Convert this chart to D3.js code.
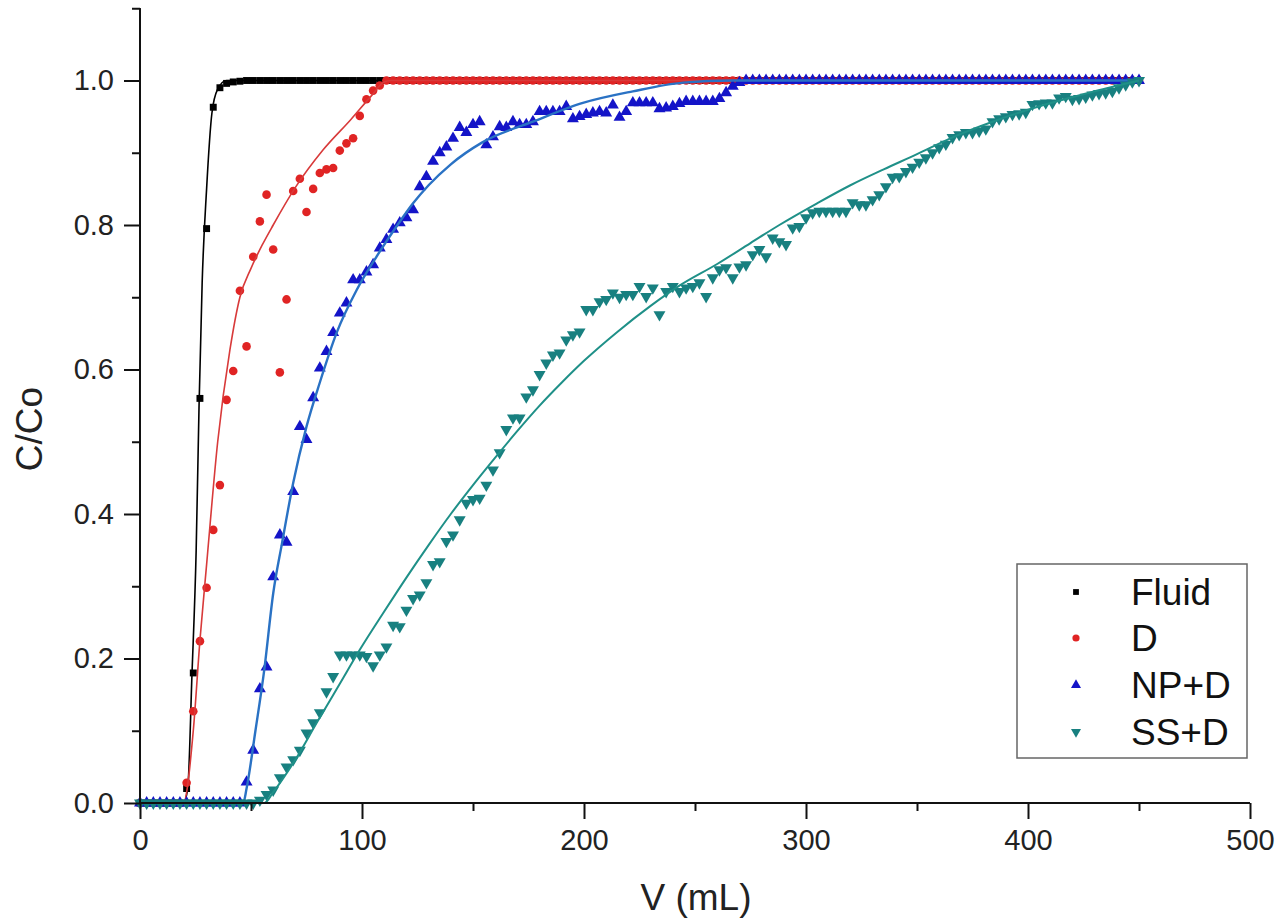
<!DOCTYPE html>
<html>
<head>
<meta charset="utf-8">
<script src="https://cdn.jsdelivr.net/npm/d3@7"></script>
<style>
  html, body { margin: 0; padding: 0; background: #fff; }
  svg { display: block; font-family: "Liberation Sans", Arial, Helvetica, sans-serif; }
</style>
</head>
<body>
<svg id="chart" width="1288" height="921"></svg>
<script>
// ---------------- DATA ----------------
const volumes = [
  0,3,6,9,12,15,18,21,24,27,
  30,33,36,39,42,45,48,51,54,57,
  60,63,66,69,72,75,78,81,84,87,
  90,93,96,99,102,105,108,111,114,117,
  120,123,126,129,132,135,138,141,144,147,
  150,153,156,159,162,165,168,171,174,177,
  180,183,186,189,192,195,198,201,204,207,
  210,213,216,219,222,225,228,231,234,237,
  240,243,246,249,252,255,258,261,264,267,
  270,273,276,279,282,285,288,291,294,297,
  300,303,306,309,312,315,318,321,324,327,
  330,333,336,339,342,345,348,351,354,357,
  360,363,366,369,372,375,378,381,384,387,
  390,393,396,399,402,405,408,411,414,417,
  420,423,426,429,432,435,438,441,444,447,
  450
];

const fluidC = [
  0,0,0,0,0,0,0,0.02,0.18,0.56,
  0.795,0.963,0.99,0.996,0.998,0.999,1,1,1,1,
  1,1,1,1,1,1,1,1,1,1,
  1,1,1,1,1,1,1,1,1,1,
  1,1,1,1,1,1,1,1,1,1,
  1,1,1,1,1,1,1,1,1,1,
  1,1,1,1,1,1,1,1,1,1,
  1,1,1,1,1,1,1,1,1,1,
  1,1,1,1,1,1,1,1,1,1,
  1,1,1,1,1,1,1,1,1,1,
  1,1,1,1,1,1,1,1,1,1,
  1,1,1,1,1,1,1,1,1,1,
  1,1,1,1,1,1,1,1,1,1,
  1,1,1,1,1,1,1,1,1,1,
  1,1,1,1,1,1,1,1,1,1,
  1
];

const dC = [
  0,0,0,0,0,0,0,0.028,0.127,0.224,
  0.298,0.378,0.44,0.558,0.598,0.709,0.632,0.756,0.805,0.842,
  0.766,0.596,0.697,0.847,0.864,0.818,0.85,0.872,0.877,0.879,
  0.903,0.913,0.92,0.951,0.974,0.986,0.993,1,1,1,
  1,1,1,1,1,1,1,1,1,1,
  1,1,1,1,1,1,1,1,1,1,
  1,1,1,1,1,1,1,1,1,1,
  1,1,1,1,1,1,1,1,1,1,
  1,1,1,1,1,1,1,1,1,1,
  1,1,1,1,1,1,1,1,1,1,
  1,1,1,1,1,1,1,1,1,1,
  1,1,1,1,1,1,1,1,1,1,
  1,1,1,1,1,1,1,1,1,1,
  1,1,1,1,1,1,1,1,1,1,
  1,1,1,1,1,1,1,1,1,1,
  1
];

const npC = [
  0,0,0,0,0,0,0,0,0,0,
  0,0,0,0,0,0,0.029,0.073,0.158,0.188,
  0.313,0.371,0.361,0.431,0.521,0.503,0.561,0.602,0.625,0.651,
  0.678,0.692,0.724,0.724,0.735,0.745,0.768,0.78,0.794,0.803,
  0.81,0.821,0.853,0.867,0.888,0.9,0.908,0.92,0.935,0.928,
  0.939,0.943,0.911,0.922,0.936,0.935,0.943,0.939,0.939,0.943,
  0.957,0.957,0.957,0.957,0.964,0.947,0.95,0.953,0.955,0.957,
  0.955,0.966,0.949,0.957,0.969,0.969,0.969,0.969,0.961,0.962,
  0.964,0.968,0.971,0.971,0.971,0.971,0.971,0.975,0.983,0.992,
  0.997,1,1,1,1,1,1,1,1,1,
  1,1,1,1,1,1,1,1,1,1,
  1,1,1,1,1,1,1,1,1,1,
  1,1,1,1,1,1,1,1,1,1,
  1,1,1,1,1,1,1,1,1,1,
  1,1,1,1,1,1,1,1,1,1,
  1
];

const ssC = [
  0,0,0,0,0,0,0,0,0,0,
  0,0,0,0,0,0,0,0,0.004,0.012,
  0.018,0.035,0.05,0.06,0.073,0.097,0.111,0.125,0.154,0.175,
  0.205,0.205,0.205,0.205,0.203,0.19,0.205,0.216,0.246,0.244,
  0.267,0.283,0.288,0.305,0.33,0.334,0.362,0.371,0.392,0.415,
  0.42,0.422,0.44,0.461,0.485,0.517,0.533,0.533,0.562,0.572,
  0.593,0.609,0.62,0.623,0.641,0.648,0.652,0.683,0.683,0.694,
  0.697,0.706,0.7,0.704,0.704,0.715,0.701,0.713,0.676,0.708,
  0.715,0.708,0.713,0.715,0.72,0.701,0.727,0.738,0.741,0.727,
  0.742,0.745,0.759,0.766,0.756,0.782,0.777,0.773,0.796,0.798,
  0.81,0.817,0.819,0.819,0.819,0.819,0.819,0.831,0.828,0.828,
  0.835,0.842,0.853,0.866,0.867,0.874,0.88,0.887,0.893,0.9,
  0.907,0.912,0.921,0.925,0.928,0.928,0.93,0.933,0.943,0.947,
  0.95,0.953,0.954,0.956,0.967,0.968,0.969,0.969,0.976,0.978,
  0.974,0.975,0.977,0.98,0.982,0.983,0.985,0.99,0.994,0.998,
  1
];

// fitted curves: [V, C/Co]
const fitFluid = [[0,0],[19.5,0],[21.5,0.02],[23.4,0.177],[25.3,0.35],[26.6,0.55],[28,0.72],[30,0.85],[32.4,0.955],[35,0.988],[39,1.0],[450,1.0]];
const fitD = [[0,0],[19.5,0],[24,0.1],[27,0.225],[30,0.33],[35,0.5],[40.5,0.627],[45,0.7],[50,0.74],[55,0.772],[60,0.8],[70,0.852],[82.5,0.904],[95,0.946],[104,0.978],[110,0.998],[113,1.0],[450,1.0]];
const fitNP = [[0,0],[46.5,0],[48,0.02],[52,0.1],[56,0.185],[60,0.29],[64,0.36],[69,0.443],[75,0.521],[81,0.582],[88.6,0.651],[97.6,0.71],[106.5,0.756],[116,0.8],[123,0.83],[130,0.855],[140,0.884],[154,0.914],[177,0.943],[199.5,0.969],[222,0.985],[244.6,0.997],[267,1.0],[450,1.0]];
const fitSS = [[0,0],[56,0],[60,0.015],[70,0.06],[80,0.113],[90,0.165],[99,0.212],[110,0.265],[120,0.312],[130,0.357],[140,0.4],[150,0.44],[160,0.478],[170,0.515],[180,0.55],[190,0.582],[200,0.612],[215,0.652],[230,0.688],[243,0.716],[260,0.746],[275,0.775],[288,0.8],[305,0.83],[320,0.855],[335,0.877],[350,0.898],[365,0.92],[385,0.944],[407,0.966],[430,0.985],[450,1.0]];

const seriesNames = ["Fluid", "D", "NP+D", "SS+D"];
const xTicks = [0, 100, 200, 300, 400, 500];
const yTicks = [0.0, 0.2, 0.4, 0.6, 0.8, 1.0];
const xLabel = "V (mL)";
const yLabel = "C/Co";

// ---------------- DRAW ----------------
const svg = d3.select("#chart");
const x = d3.scaleLinear().domain([0, 500]).range([140, 1250]);
const y = d3.scaleLinear().domain([0, 1.1]).range([803, 8.25]);

const styles = [
  { c: fluidC, fit: fitFluid, mk: "#000000", ln: "#000000", lw: 1.6, sym: d3.symbolSquare, size: 48, rot: 0 },
  { c: dC, fit: fitD, mk: "#e02424", ln: "#d83a3a", lw: 1.6, sym: d3.symbolCircle, size: 58, rot: 0 },
  { c: npC, fit: fitNP, mk: "#1414c8", ln: "#2a72c4", lw: 2.4, sym: d3.symbolTriangle, size: 62, rot: 0 },
  { c: ssC, fit: fitSS, mk: "#188080", ln: "#1f9088", lw: 2.0, sym: d3.symbolTriangle, size: 62, rot: 180 }
];

const line = d3.line().x(d => x(d[0])).y(d => y(d[1])).curve(d3.curveMonotoneX);

styles.forEach((s, k) => {
  const g = svg.append("g").attr("class", "series-" + k);
  const pts = volumes.map((v, i) => [v, s.c[i]]);
  g.selectAll("path.pt").data(pts).enter().append("path")
    .attr("class", "pt")
    .attr("d", d3.symbol().type(s.sym).size(s.size))
    .attr("transform", d => `translate(${x(d[0])},${y(d[1])}) rotate(${s.rot})`)
    .attr("fill", s.mk);
  g.append("path").datum(s.fit)
    .attr("d", line)
    .attr("fill", "none")
    .attr("stroke", s.ln)
    .attr("stroke-width", s.lw);
});

// axes
const xAxis = svg.append("g").attr("transform", "translate(0,803)");
xAxis.call(d3.axisBottom(x).tickValues(xTicks).tickSize(16).tickPadding(10).tickFormat(d3.format("d")));
xAxis.append("g").call(d3.axisBottom(x).tickValues([50,150,250,350,450]).tickSize(8).tickFormat(""));
const yAxis = svg.append("g").attr("transform", "translate(140,0)");
yAxis.call(d3.axisLeft(y).tickValues(yTicks).tickSize(16).tickPadding(10).tickFormat(d3.format(".1f")));
yAxis.append("g").call(d3.axisLeft(y).tickValues([0.1,0.3,0.5,0.7,0.9,1.1]).tickSize(8).tickFormat(""));

svg.selectAll(".domain").attr("stroke", "#111").attr("stroke-width", 2);
svg.selectAll(".tick line").attr("stroke", "#111").attr("stroke-width", 2);
svg.selectAll(".tick text").attr("font-size", 29).attr("fill", "#222")
  .attr("font-family", "'Liberation Sans', Arial, sans-serif");
xAxis.selectAll(".domain").attr("d", `M${x(0)},0H${x(500)}`);
yAxis.selectAll(".domain").attr("d", `M0,${y(0)}V${y(1.1)}`);

// axis titles
svg.append("text").attr("x", 696).attr("y", 910).attr("text-anchor", "middle")
  .attr("font-size", 37).attr("fill", "#222").text(xLabel);
svg.append("text").attr("transform", "translate(42,429) rotate(-90)").attr("text-anchor", "middle")
  .attr("font-size", 37).attr("fill", "#222").text(yLabel);

// legend
const lg = svg.append("g");
lg.append("rect").attr("x", 1017).attr("y", 564).attr("width", 230).attr("height", 194)
  .attr("fill", "#fff").attr("stroke", "#666").attr("stroke-width", 1.5);
const rowsY = [592, 638, 685, 732];
seriesNames.forEach((name, k) => {
  const s = styles[k];
  lg.append("path")
    .attr("d", d3.symbol().type(s.sym).size(s.size * 0.7))
    .attr("transform", `translate(1076,${rowsY[k]}) rotate(${s.rot})`)
    .attr("fill", s.mk);
  lg.append("text").attr("x", 1131).attr("y", rowsY[k]).attr("dy", "0.36em")
    .attr("font-size", 37).attr("fill", "#111").text(name);
});
</script>
</body>
</html>
